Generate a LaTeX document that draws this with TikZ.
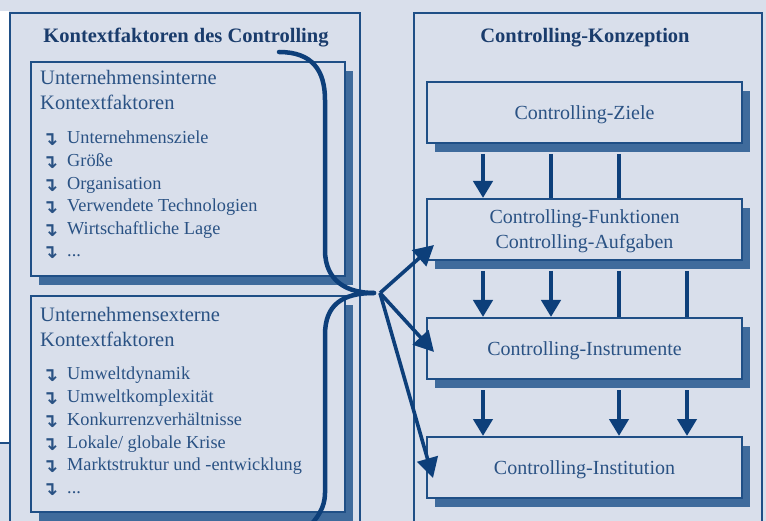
\documentclass[tikz,border=0pt]{standalone}
\usepackage{fontspec}
\setmainfont{Liberation Serif}
\newfontfamily\symfont{DejaVu Sans}
\usetikzlibrary{shadows,arrows.meta,calc}
\definecolor{bgc}{HTML}{D9DFEB}
\definecolor{outc}{HTML}{1F4F86}
\definecolor{shc}{HTML}{3F6B9C}
\definecolor{arc}{HTML}{0D3F7A}
\definecolor{txc}{HTML}{2A5284}
\definecolor{ttc}{HTML}{1A3C6C}
\begin{document}
\begin{tikzpicture}[x=1pt,y=-1pt,
  frame/.style={draw=outc, line width=1.8pt},
  sbox/.style={draw=outc, line width=2pt, fill=bgc, inner sep=0pt,
    drop shadow={shadow xshift=8pt, shadow yshift=-9pt, fill=shc, opacity=1}},
  rbox/.style={sbox, minimum width=315pt, minimum height=61pt, text=txc,
    font=\fontsize{20}{25}\selectfont, align=center, text depth=0pt},
  lbox/.style={sbox, minimum width=314pt},
  head/.style={anchor=base west, inner sep=0pt, text=txc, font=\fontsize{20.5}{24}\selectfont},
  item/.style={anchor=base west, inner sep=0pt, text=txc, font=\fontsize{18.3}{22}\selectfont},
  title/.style={anchor=base, inner sep=0pt, text=ttc, font=\fontsize{20.5}{24}\selectfont\bfseries},
  flow/.style={draw=arc, line width=4.6pt},
  flowarrow/.style={flow, -{Triangle[length=17pt,width=19pt]}},
  curve/.style={draw=arc, line width=4.5pt, line cap=round},
  fan/.style={draw=arc, line width=3.6pt, -{Triangle[length=20pt,width=21pt]}}
]
\newcommand{\bul}{\makebox[25pt][l]{\raisebox{-2pt}{\symfont\bfseries\fontsize{19}{19}\selectfont ↴}}}
\useasboundingbox (0,0) rectangle (766,521);
\clip (0,0) rectangle (766,521);
\fill[bgc] (0,0) rectangle (766,521);
% white strip on the left edge
\fill[white] (0,11) rectangle (9,443);
\draw[outc, line width=1.2pt] (0,443) -- (9,443);
% outer frames
\draw[frame] (10,13) rectangle (360,545);
\draw[frame] (414,13) rectangle (762,545);
% titles
\node[title] (tl) at (186,43) {Kontextfaktoren des Controlling};
\node[title] (tr) at (585,43) {Controlling-Konzeption};
% left boxes
\node[lbox, minimum height=214pt] (B1) at (188,169) {};
\node[lbox, minimum height=216pt] (B2) at (188,404) {};
\node[head] (h1a) at (40,85) {Unternehmensinterne};
\node[head] (h1b) at (40,110) {Kontextfaktoren};
\node[item] (i1) at (42,144) {\bul Unternehmensziele};
\node[item] (i2) at (42,167) {\bul Größe};
\node[item] (i3) at (42,189.5) {\bul Organisation};
\node[item] (i4) at (42,212) {\bul Verwendete Technologien};
\node[item] (i5) at (42,234.5) {\bul Wirtschaftliche Lage};
\node[item] (i6) at (42,257) {\bul ...};
\node[head] (h2a) at (40,322) {Unternehmensexterne};
\node[head] (h2b) at (40,347) {Kontextfaktoren};
\node[item] (e1) at (42,379) {\bul Umweltdynamik};
\node[item] (e2) at (42,402.5) {\bul Umweltkomplexität};
\node[item] (e3) at (42,425.5) {\bul Konkurrenzverhältnisse};
\node[item] (e4) at (42,448) {\bul Lokale/ globale Krise};
\node[item] (e5) at (42,470.5) {\bul Marktstruktur und -entwicklung};
\node[item] (e6) at (42,493) {\bul ...};
% right boxes
\node[rbox] (Z) at (584.5,112.5) {Controlling-Ziele};
\node[rbox] (F) at (584.5,229.5) {Controlling-Funktionen\\Controlling-Aufgaben};
\node[rbox] (I) at (584.5,348.5) {Controlling-Instrumente};
\node[rbox] (N) at (584.5,467.5) {Controlling-Institution};
% column coordinates
\coordinate (c1) at (483,0);
\coordinate (c2) at (551,0);
\coordinate (c3) at (619,0);
\coordinate (c4) at (687,0);
% vertical flows
\draw[flowarrow] ($(Z.south -| c1)+(0,10)$) -- (F.north -| c1);
\draw[flow] ($(Z.south -| c2)+(0,10)$) -- (F.north -| c2);
\draw[flow] ($(Z.south -| c3)+(0,10)$) -- (F.north -| c3);
\draw[flowarrow] ($(F.south -| c1)+(0,10)$) -- (I.north -| c1);
\draw[flowarrow] ($(F.south -| c2)+(0,10)$) -- (I.north -| c2);
\draw[flow] ($(F.south -| c3)+(0,10)$) -- (I.north -| c3);
\draw[flow] ($(F.south -| c4)+(0,10)$) -- (I.north -| c4);
\draw[flowarrow] ($(I.south -| c1)+(0,10)$) -- (N.north -| c1);
\draw[flowarrow] ($(I.south -| c3)+(0,10)$) -- (N.north -| c3);
\draw[flowarrow] ($(I.south -| c4)+(0,10)$) -- (N.north -| c4);
% curved connectors
\coordinate (cs) at (279,52);
\coordinate (m) at (374,293);
\coordinate (ce) at (306,530);
\coordinate (o) at (380,293);
\draw[curve] (cs) .. controls (312,52) and (325,70) .. (325,100) -- (325,250)
  .. controls (325,282) and (348,293) .. (m);
\draw[curve] (m) .. controls (342,293) and (325,305) .. (325,335) -- (325,493)
  .. controls (325,507) and (318,518) .. (ce);
% fan arrows
\coordinate (tF) at ($(F.west)+(8,15.5)$);
\coordinate (tI) at ($(I.west)+(8,3.5)$);
\coordinate (tN) at ($(N.west)+(7,10.5)$);
\draw[fan] (o) -- (tF);
\draw[fan] (o) -- (tI);
\draw[fan] (o) -- (tN);
\end{tikzpicture}
\end{document}
